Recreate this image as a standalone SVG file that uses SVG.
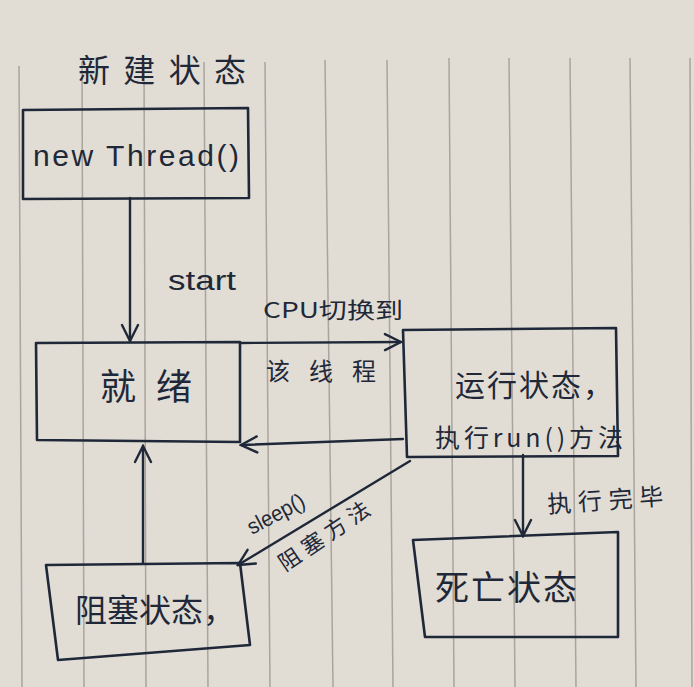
<svg xmlns="http://www.w3.org/2000/svg" width="694" height="687" viewBox="0 0 694 687">
<defs>
<style>
.paper{fill:#e1ddd4}
.rule{stroke:#a9a59e;stroke-width:1.5}
.box{fill:none;stroke:#1f2838;stroke-width:2.6;stroke-linejoin:round}
.edge{fill:none;stroke:#1f2838;stroke-width:2.4;stroke-linecap:round}
.t{font-family:"Liberation Sans","Noto Sans CJK SC",sans-serif;fill:#1f2838}
.cjk{font-family:"Noto Sans CJK SC","Liberation Sans",sans-serif;fill:#1f2838}
</style>
<marker id="arr" viewBox="0 0 20 20" refX="18" refY="10" markerWidth="20" markerHeight="20" markerUnits="userSpaceOnUse" orient="auto">
<path d="M2,2 L18,10 L2,18" fill="none" stroke="#1f2838" stroke-width="2.4" stroke-linecap="round"/>
</marker>
</defs>
<rect class="paper" x="0" y="0" width="694" height="687"/>
<g id="rules">
<line class="rule" x1="19" y1="66" x2="22" y2="687"/>
<line class="rule" x1="82" y1="62" x2="84" y2="687"/>
<line class="rule" x1="144" y1="62" x2="146" y2="687"/>
<line class="rule" x1="204" y1="62" x2="208" y2="687"/>
<line class="rule" x1="265" y1="62" x2="270" y2="687"/>
<line class="rule" x1="325" y1="60" x2="333" y2="687"/>
<line class="rule" x1="387" y1="60" x2="393" y2="687"/>
<line class="rule" x1="449" y1="58" x2="454" y2="687"/>
<line class="rule" x1="509" y1="58" x2="515" y2="687"/>
<line class="rule" x1="570" y1="58" x2="576" y2="687"/>
<line class="rule" x1="630" y1="58" x2="636" y2="687"/>
<line class="rule" x1="690" y1="58" x2="692" y2="687"/>
</g>
<g id="connectors">
<line class="edge" x1="130" y1="198" x2="130" y2="341" marker-end="url(#arr)"/>
<line class="edge" x1="240" y1="343" x2="401" y2="342" marker-end="url(#arr)"/>
<line class="edge" x1="403" y1="439" x2="241" y2="445" marker-end="url(#arr)"/>
<line class="edge" x1="523" y1="455" x2="523" y2="536" marker-end="url(#arr)"/>
<line class="edge" x1="410" y1="461" x2="238" y2="565" marker-end="url(#arr)"/>
<line class="edge" x1="143" y1="563" x2="143" y2="446" marker-end="url(#arr)"/>
<text class="t" x="168" y="290" font-size="27" textLength="68" lengthAdjust="spacingAndGlyphs">start</text>
<text class="cjk" x="263" y="318" font-size="22" textLength="140" lengthAdjust="spacingAndGlyphs">CPU切换到</text>
<text class="cjk" x="266" y="380" font-size="24" textLength="110" lengthAdjust="spacing">该线程</text>
<text class="cjk" x="548" y="513" font-size="24" textLength="116" lengthAdjust="spacing" transform="rotate(-4 548 513)">执行完毕</text>
<text class="t" x="252" y="535" font-size="22" transform="rotate(-28 252 535)" textLength="62" lengthAdjust="spacingAndGlyphs">sleep()</text>
<text class="cjk" x="285" y="572" font-size="22" transform="rotate(-34 285 572)" textLength="105" lengthAdjust="spacing">阻塞方法</text>
</g>
<g id="new">
<text class="cjk" x="78" y="82" font-size="32" textLength="168" lengthAdjust="spacing">新建状态</text>
<path class="box" d="M23,110 L248,108 L249,198 L23,199 Z"/>
<text class="t" x="33" y="166" font-size="30" textLength="206" lengthAdjust="spacing">new Thread()</text>
</g>
<g id="ready">
<path class="box" d="M36,343 L240,342 L240,442 L37,440 Z"/>
<text class="cjk" x="100" y="400" font-size="36" textLength="92" lengthAdjust="spacing">就绪</text>
</g>
<g id="running">
<path class="box" d="M403,330 L616,328 L618,456 L407,457 Z"/>
<text class="cjk" x="455" y="396" font-size="30" textLength="158" lengthAdjust="spacing">运行状态，</text>
<text class="cjk" x="435" y="447" font-size="25" textLength="188" lengthAdjust="spacing">执行run()方法</text>
</g>
<g id="dead">
<path class="box" d="M413,540 L618,532 L618,637 L425,637 Z"/>
<text class="cjk" x="435" y="600" font-size="34" textLength="142" lengthAdjust="spacing">死亡状态</text>
</g>
<g id="blocked">
<path class="box" d="M46,565 L240,563 L250,645 L58,660 Z"/>
<text class="cjk" x="75" y="622" font-size="32" textLength="160" lengthAdjust="spacing">阻塞状态，</text>
</g>
</svg>
